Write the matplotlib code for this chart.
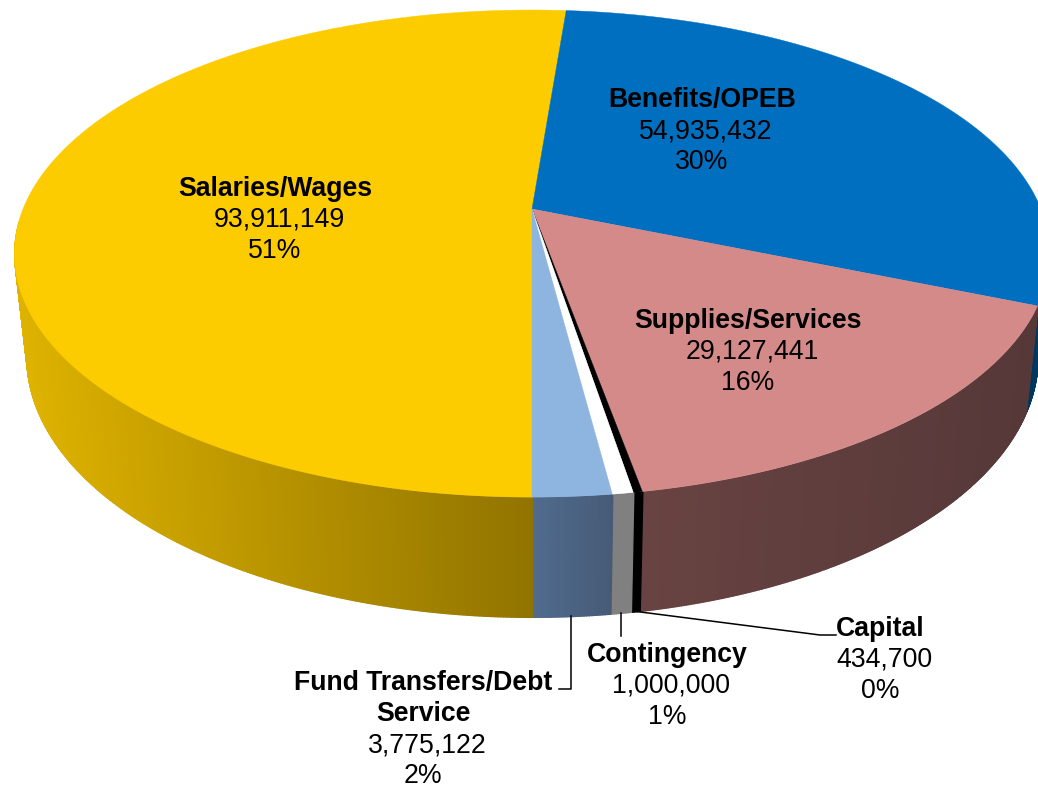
import numpy as np
import matplotlib
matplotlib.use("Agg")
import matplotlib.pyplot as plt
from matplotlib.collections import PolyCollection
from matplotlib.colors import to_rgb

plt.rcParams['font.family'] = ['Liberation Sans', 'DejaVu Sans']

# --- data -------------------------------------------------------------
names = ["Salaries/Wages", "Benefits/OPEB", "Supplies/Services", "Capital",
         "Contingency", "Fund Transfers/Debt\nService"]
values = [93911149, 54935432, 29127441, 434700, 1000000, 3775122]
pcts = ["51%", "30%", "16%", "0%", "1%", "2%"]

# --- style ------------------------------------------------------------
top_cols = ["#FCCB00", "#006FC0", "#D58A8A", "#000000", "#FFFFFF", "#8EB4E0"]
side_left = ["#DFB300", "#00375F", "#684342", "#000000", "#808080", "#506B8F"]
side_right = ["#8C7000", "#00375F", "#563838", "#000000", "#808080", "#475B76"]
label_pos = [(275, 186), (702, 97), (748, 318), (880, 626), (667, 652), (423, 680)]
FS = 19.2
LINE = 31

# projective ring geometry
K = -0.183
TOP = dict(cx=532, cy=209, A=509, B=235.4)
BOT = dict(cx=532, cy=309, A=497, B=251.5)


def proj(theta, g):
    """theta: clockwise screen angle measured from the far (top) point."""
    u, v = np.sin(theta), -np.cos(theta)
    d = 1 + K * v
    return g['cx'] + g['A'] * u / d, g['cy'] + g['B'] * v / d


vals = np.array(values, float)
cum = np.concatenate([[0], np.cumsum(vals)]) / vals.sum()
start = np.pi  # first slice begins at the near point, running clockwise
angles = start + 2 * np.pi * cum

fig = plt.figure(figsize=(10.38, 7.86), dpi=100)
ax = fig.add_axes([0, 0, 1, 1])
ax.set_xlim(0, 1038)
ax.set_ylim(786, 0)
ax.axis('off')

# sides, painted back to front; the far half is hidden behind the top face
quads, cols, depth = [], [], []
for i in range(len(vals)):
    n = max(3, int(np.degrees(angles[i + 1] - angles[i]) * 4))
    t = np.linspace(angles[i], angles[i + 1], n + 1)
    xt, yt = proj(t, TOP)
    xb, yb = proj(t, BOT)
    cl, cr = np.array(to_rgb(side_left[i])), np.array(to_rgb(side_right[i]))
    xmin, xmax = xb.min(), xb.max()
    for j in range(n):
        v = -np.cos(0.5 * (t[j] + t[j + 1]))
        if v < 0.05:
            continue
        q = [(xt[j], yt[j]), (xt[j + 1], yt[j + 1]), (xb[j + 1], yb[j + 1]), (xb[j], yb[j])]
        f = (0.5 * (xb[j] + xb[j + 1]) - xmin) / max(xmax - xmin, 1)
        quads.append(q)
        cols.append(tuple(cl + (cr - cl) * f))
        depth.append(v)
order = np.argsort(depth)
for k in order:
    ax.add_collection(PolyCollection([quads[k]], facecolors=[cols[k]], edgecolors=[cols[k]],
                                     linewidths=1.0, joinstyle='round', zorder=1))

# top face
for i in range(len(vals)):
    t = np.linspace(angles[i], angles[i + 1], 300)
    x, y = proj(t, TOP)
    xs = np.concatenate([[TOP['cx']], x])
    ys = np.concatenate([[TOP['cy']], y])
    ax.fill(xs, ys, color=top_cols[i], lw=0.3, zorder=2)

# leader lines
mid = 0.5 * (angles[:-1] + angles[1:])
lw = 1.1
x5, y5 = proj(mid[5], BOT)
ax.plot([x5, x5, 559], [y5, 689, 689], color='black', lw=lw, zorder=3)
x4, y4 = proj(mid[4], BOT)
ax.plot([x4, x4], [y4, 636], color='black', lw=lw, zorder=3)
x3, y3 = proj(mid[3], BOT)
ax.plot([x3, 820, 836], [y3, 635, 635], color='black', lw=lw, zorder=3)

# labels
for i in range(len(vals)):
    x, y = label_pos[i]
    for part in names[i].split("\n"):
        ax.text(x, y, part, ha='center', va='center_baseline', fontsize=FS, fontweight='bold', color='black', zorder=4)
        y += LINE
    ax.text(x + 4, y, f"{values[i]:,}", ha='center', va='center_baseline', fontsize=FS, color='black', zorder=4)
    y += LINE
    ax.text(x, y, pcts[i], ha='center', va='center_baseline', fontsize=FS, color='black', zorder=4)

fig.savefig("out.png", dpi=100)
